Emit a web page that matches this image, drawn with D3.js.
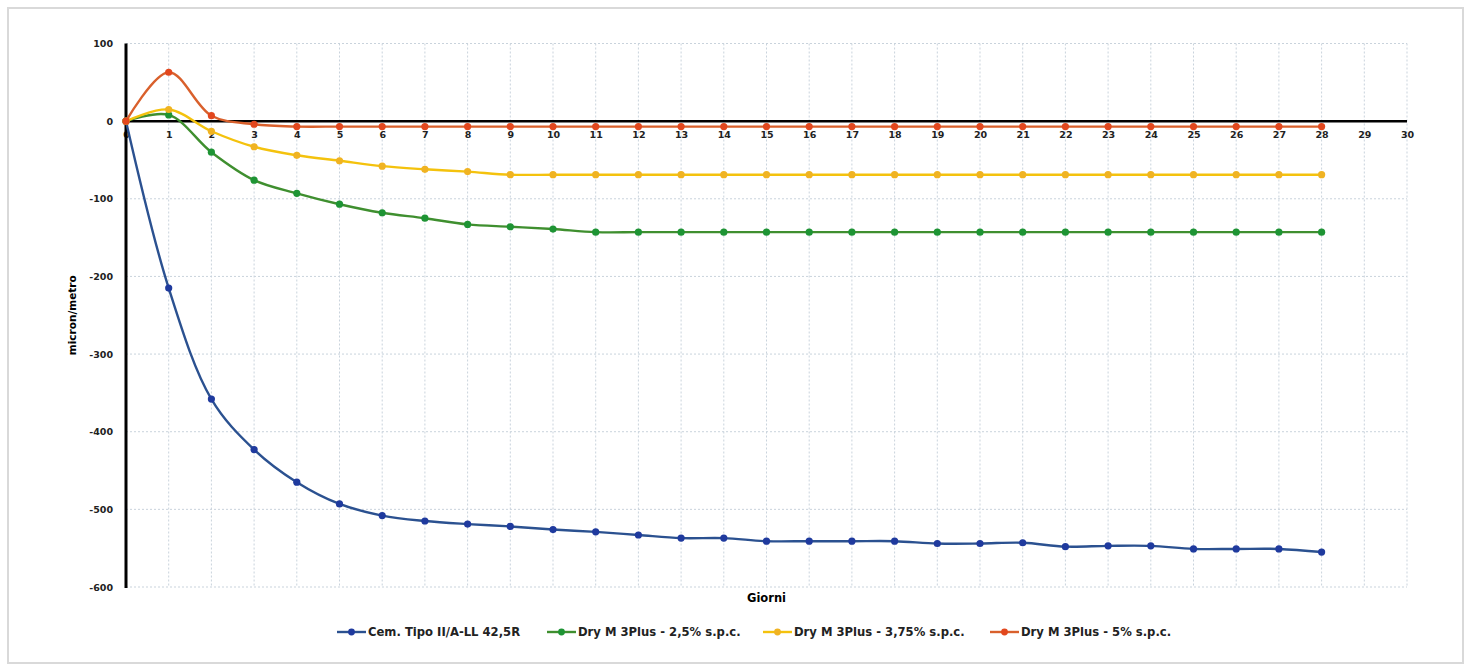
<!DOCTYPE html>
<html>
<head>
<meta charset="utf-8">
<script src="https://cdn.jsdelivr.net/npm/d3@7"></script>
<style>
html,body{margin:0;padding:0;background:#fff;}
svg{display:block;}
</style>
</head>
<body>
<svg id="chart" width="1472" height="671"></svg>
<script>
// ── Data ──
const days=d3.range(0,29);
const xTicks=d3.range(0,31);
const yTicks=[100,0,-100,-200,-300,-400,-500,-600];

const cem=[0,-215,-358,-423,-465,-493,-508,-515,-519,-522,-526,-529,-533,-537,-537,-541,-541,-541,-541,-544,-544,-543,-548,-547,-547,-551,-551,-551,-555];
const dry25=[0,8,-40,-76,-93,-107,-118,-125,-133,-136,-139,-143,-143,-143,-143,-143,-143,-143,-143,-143,-143,-143,-143,-143,-143,-143,-143,-143,-143];
const dry375=[0,15,-13,-33,-44,-51,-58,-62,-65,-69,-69,-69,-69,-69,-69,-69,-69,-69,-69,-69,-69,-69,-69,-69,-69,-69,-69,-69,-69];
const dry5=[0,63,7,-4,-7,-7,-7,-7,-7,-7,-7,-7,-7,-7,-7,-7,-7,-7,-7,-7,-7,-7,-7,-7,-7,-7,-7,-7,-7];

const seriesNames=['Cem. Tipo II/A-LL 42,5R','Dry M 3Plus - 2,5% s.p.c.','Dry M 3Plus - 3,75% s.p.c.','Dry M 3Plus - 5% s.p.c.'];
const seriesValues=[cem,dry25,dry375,dry5];
const lineCol=['#2b5190','#3f8f2f','#f4c20d','#d9602c'];
const dotCol=['#1f3a9e','#1e9434','#f0b322','#e2471e'];

// ── Layout ──
const X0=126,X1=1407,Y0=43.5,Y1=587;
const FONT='"DejaVu Sans", sans-serif';

const svg=d3.select('#chart');
const x=d3.scaleLinear().domain([0,30]).range([X0,X1]);
const y=d3.scaleLinear().domain([-600,100]).range([Y1,Y0]);

// outer frame
svg.append('rect').attr('x',8).attr('y',8).attr('width',1455).attr('height',655)
  .attr('fill','#fff').attr('stroke','#d9d9d9').attr('stroke-width',2);

// grid
const grid=svg.append('g').attr('stroke','#c9d3dc').attr('stroke-width',1).attr('stroke-dasharray','2,2');
grid.selectAll('line.v').data(xTicks.slice(1)).join('line')
  .attr('x1',d=>x(d)).attr('x2',d=>x(d)).attr('y1',Y0).attr('y2',Y1);
grid.selectAll('line.h').data(yTicks).join('line')
  .attr('x1',X0).attr('x2',X1).attr('y1',d=>y(d)).attr('y2',d=>y(d));

// y axis (no ticks, labels only) — plain hyphen like the original
const yAxis=d3.axisLeft(y).tickValues(yTicks).tickFormat(d=>String(d)).tickSize(0).tickPadding(13);
svg.append('g').attr('transform',`translate(${X0},0)`).call(yAxis)
  .call(g=>g.select('.domain').remove())
  .selectAll('text').attr('font-family',FONT).attr('font-size',9.5).attr('font-weight','bold').attr('fill','#222');

// x axis labels sit under the zero line
const xAxis=d3.axisBottom(x).tickValues(xTicks).tickSize(0).tickPadding(10);
svg.append('g').attr('transform',`translate(0,${y(0)})`).call(xAxis)
  .call(g=>g.select('.domain').remove())
  .selectAll('text').attr('font-family',FONT).attr('font-size',9.5).attr('font-weight','bold').attr('fill','#222');

// axis lines
svg.append('line').attr('x1',X0).attr('x2',X0).attr('y1',Y0).attr('y2',Y1+1)
  .attr('stroke','#000').attr('stroke-width',3);
svg.append('line').attr('x1',X0).attr('x2',X1).attr('y1',y(0)).attr('y2',y(0))
  .attr('stroke','#000').attr('stroke-width',2.5);

// axis titles
svg.append('text').attr('transform',`translate(76,${(Y0+Y1)/2}) rotate(-90)`)
  .attr('text-anchor','middle').attr('font-family',FONT).attr('font-size',10.5).attr('font-weight','bold')
  .text('micron/metro');
svg.append('text').attr('x',(X0+X1)/2).attr('y',602).attr('text-anchor','middle')
  .attr('font-family',FONT).attr('font-size',11.5).attr('font-weight','bold').text('Giorni');

// series
const line=d3.line().x((d,i)=>x(days[i])).y(d=>y(d)).curve(d3.curveCatmullRom.alpha(0.5));
seriesValues.forEach((vals,s)=>{
  const g=svg.append('g');
  g.append('path').attr('d',line(vals)).attr('fill','none')
    .attr('stroke',lineCol[s]).attr('stroke-width',2.4);
  g.selectAll('circle').data(vals).join('circle')
    .attr('cx',(d,i)=>x(days[i])).attr('cy',d=>y(d)).attr('r',3.6).attr('fill',dotCol[s]);
});

// legend
const legX=[337,547,763,990];
const leg=svg.append('g').attr('transform','translate(0,632)');
seriesNames.forEach((name,s)=>{
  const g=leg.append('g').attr('transform',`translate(${legX[s]},0)`);
  g.append('line').attr('x1',0).attr('x2',29).attr('y1',0).attr('y2',0)
    .attr('stroke',lineCol[s]).attr('stroke-width',2.4);
  g.append('circle').attr('cx',14.5).attr('cy',0).attr('r',3.4).attr('fill',dotCol[s]);
  g.append('text').attr('x',31).attr('y',4).attr('font-family',FONT)
    .attr('font-size',11.6).attr('font-weight','bold').attr('fill','#222').text(name);
});
</script>
</body>
</html>
